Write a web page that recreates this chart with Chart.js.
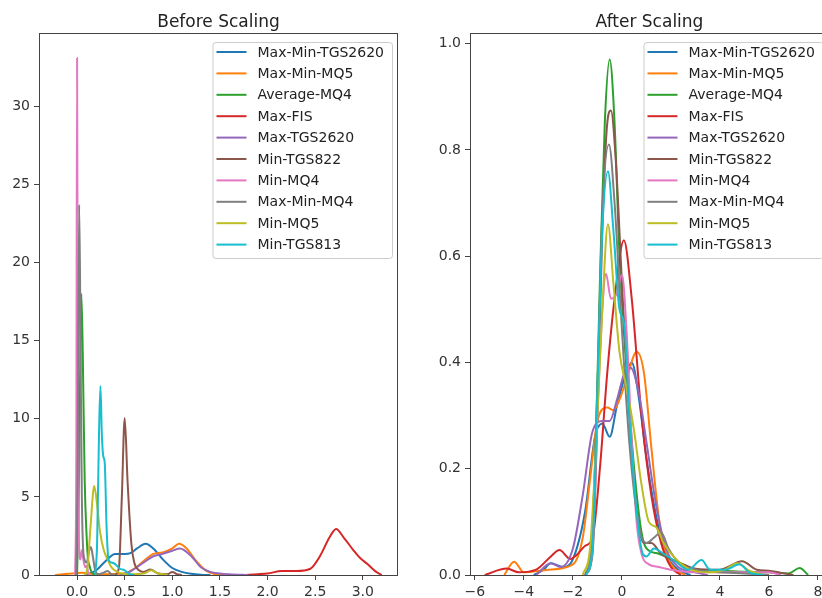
<!DOCTYPE html>
<html lang="en">
<head>
  <meta charset="UTF-8">
  <title>Before / After Scaling</title>
  <style>
    html, body { margin: 0; padding: 0; background: #fff; overflow: hidden; }
    #wrap { position: relative; width: 822px; height: 598px; overflow: hidden; }
    #left { position: absolute; left: 0; top: 0; }
    #right { position: absolute; left: 411px; top: 0; }
  </style>
  <script src="https://cdn.jsdelivr.net/npm/chart.js@4.4.0/dist/chart.umd.min.js"></script>
</head>
<body>
<div id="wrap">
  <canvas id="left" width="411" height="598"></canvas>
  <canvas id="right" width="430" height="598"></canvas>
</div>
<script>
// series names, in the order they were plotted
var names = ['Max-Min-TGS2620', 'Max-Min-MQ5', 'Average-MQ4', 'Max-FIS', 'Max-TGS2620',
             'Min-TGS822', 'Min-MQ4', 'Max-Min-MQ4', 'Min-MQ5', 'Min-TGS813']
var colors = ['#1f77b4', '#ff7f0e', '#2ca02c', '#d62728', '#9467bd',
              '#8c564b', '#e377c2', '#7f7f7f', '#bcbd22', '#17becf']

// tick labels
var beforeXTicks = [0.0, 0.5, 1.0, 1.5, 2.0, 2.5, 3.0]
var beforeYTicks = [0, 5, 10, 15, 20, 25, 30]
var afterXTicks = [-6, -4, -2, 0, 2, 4, 6, 8]
var afterYTicks = [0.0, 0.2, 0.4, 0.6, 0.8, 1.0]

// density curves before scaling, [x, y]
var bMaxMinTGS2620 = [[0.1,0],[0.2,0.3],[0.3,0.9],[0.4,1.35],[0.5,1.35],[0.56,1.4],[0.63,1.7],[0.72,2.0],[0.8,1.7],[0.9,1.0],[1.0,0.45],[1.1,0.2],[1.2,0.08],[1.3,0.02],[1.4,0]]
var bMaxMinMQ5 = [[-0.23,0],[-0.15,0.05],[-0.05,0.1],[0.05,0.15],[0.2,0.05],[0.5,0.1],[0.6,0.4],[0.7,0.9],[0.8,1.35],[0.9,1.45],[1.0,1.7],[1.07,2.0],[1.15,1.7],[1.25,0.9],[1.35,0.3],[1.45,0.05],[1.55,0]]
var bAverageMQ4 = [[0.0,0],[0.02,6],[0.045,18],[0.06,14],[0.08,6],[0.1,2.5],[0.115,1.0],[0.13,0.6],[0.15,0.2],[0.2,0]]
var bMaxFIS = [[1.75,0],[1.9,0.05],[2.0,0.1],[2.15,0.25],[2.3,0.25],[2.45,0.4],[2.55,1.2],[2.65,2.4],[2.72,2.95],[2.8,2.4],[2.9,1.6],[2.97,1.1],[3.05,0.7],[3.13,0.25],[3.2,0]]
var bMaxTGS2620 = [[0.45,0],[0.55,0.2],[0.7,0.8],[0.8,1.2],[0.9,1.35],[1.0,1.55],[1.08,1.7],[1.2,1.2],[1.3,0.5],[1.4,0.2],[1.5,0.1],[1.6,0.05],[1.8,0]]
var bMinTGS822 = [[0.4,0],[0.44,0.5],[0.47,5],[0.5,10.05],[0.53,6],[0.57,2],[0.6,0.8],[0.65,0.3],[0.7,0.2],[0.77,0.35],[0.85,0.1],[0.95,0.05],[1.0,0.2],[1.05,0.05],[1.1,0]]
var bMinMQ4 = [[-0.02,0],[-0.008,8],[0,33.1],[0.008,12],[0.02,2],[0.035,1.0],[0.05,1.6],[0.065,1.0],[0.085,0.5],[0.1,0.6],[0.115,0.2],[0.13,0]]
var bMaxMinMQ4 = [[-0.01,0],[0.005,6],[0.022,23.7],[0.035,16],[0.05,5],[0.07,1.2],[0.1,0.8],[0.125,1.5],[0.145,1.8],[0.165,1.2],[0.19,0.3],[0.22,0.05],[0.28,0.15],[0.32,0.25],[0.36,0.05],[0.4,0]]
var bMinMQ5 = [[0.08,0],[0.11,0.5],[0.14,3],[0.18,5.7],[0.21,4.5],[0.24,2.8],[0.28,1.6],[0.32,1.0],[0.36,0.5],[0.42,0.2],[0.55,0.05],[0.7,0.1],[0.78,0.3],[0.85,0.1],[0.95,0]]
var bMinTGS813 = [[0.19,0],[0.21,2],[0.23,9],[0.245,12.1],[0.26,9],[0.275,7.6],[0.29,7.2],[0.31,3],[0.33,1],[0.36,0.8],[0.4,0.7],[0.45,0.4],[0.5,0.3],[0.55,0.05],[0.6,0]]

// density curves after scaling, [x, y]
var aMaxMinTGS2620 = [[-3.6,0],[-3.2,0.01],[-2.9,0.022],[-2.4,0.015],[-2.0,0.03],[-1.5,0.12],[-1.1,0.26],[-0.8,0.285],[-0.5,0.26],[-0.2,0.32],[0.1,0.37],[0.4,0.4],[0.7,0.33],[1.0,0.22],[1.4,0.11],[1.8,0.04],[2.3,0.01],[2.8,0]]
var aMaxMinMQ5 = [[-4.8,0],[-4.4,0.025],[-4.0,0.005],[-3.0,0.01],[-2.0,0.02],[-1.6,0.07],[-1.3,0.18],[-1.0,0.29],[-0.6,0.315],[-0.35,0.31],[-0.1,0.33],[0.2,0.37],[0.6,0.42],[0.9,0.38],[1.2,0.24],[1.5,0.11],[1.8,0.04],[2.2,0.01],[2.6,0]]
var aAverageMQ4 = [[-1.5,0],[-1.3,0.03],[-1.1,0.2],[-0.9,0.55],[-0.7,0.85],[-0.5,0.97],[-0.3,0.85],[-0.1,0.6],[0.2,0.38],[0.5,0.2],[0.8,0.08],[1.0,0.05],[1.5,0.04],[2.0,0.03],[2.5,0.02],[3.0,0.01],[4.0,0.008],[5.0,0.006],[6.0,0.005],[6.8,0.003],[7.25,0.013],[7.6,0]]
var aMaxFIS = [[-5.6,0],[-4.7,0.012],[-4.2,0.005],[-3.5,0.01],[-2.9,0.035],[-2.55,0.047],[-2.1,0.03],[-1.8,0.04],[-1.5,0.055],[-1.2,0.07],[-0.9,0.2],[-0.6,0.38],[-0.3,0.52],[0.08,0.63],[0.4,0.52],[0.8,0.3],[1.2,0.15],[1.6,0.06],[2.0,0.015],[2.4,0]]
var aMaxTGS2620 = [[-3.5,0],[-2.9,0.022],[-2.5,0.015],[-2.0,0.05],[-1.6,0.15],[-1.2,0.27],[-0.8,0.29],[-0.5,0.29],[-0.2,0.33],[0.1,0.38],[0.35,0.39],[0.7,0.34],[1.0,0.25],[1.4,0.13],[1.8,0.05],[2.3,0.015],[3.0,0.005],[3.5,0]]
var aMinTGS822 = [[-1.5,0],[-1.2,0.04],[-1.0,0.3],[-0.8,0.65],[-0.6,0.85],[-0.45,0.874],[-0.25,0.78],[0.0,0.55],[0.3,0.3],[0.6,0.12],[0.9,0.06],[1.2,0.06],[1.6,0.04],[2.0,0.03],[2.5,0.02],[3.0,0.012],[4.0,0.01],[4.9,0.026],[5.5,0.01],[6.0,0.008],[6.5,0.004],[7.0,0]]
var aMinMQ4 = [[-1.5,0],[-1.2,0.05],[-1.0,0.3],[-0.8,0.5],[-0.65,0.567],[-0.45,0.52],[-0.2,0.53],[0.0,0.565],[0.2,0.45],[0.4,0.25],[0.6,0.1],[0.8,0.04],[1.1,0.02],[1.5,0.015],[2.0,0.01],[3.0,0.005],[4.0,0.005],[5.0,0.005],[6.0,0.005],[6.5,0]]
var aMaxMinMQ4 = [[-1.5,0],[-1.25,0.05],[-1.0,0.35],[-0.8,0.68],[-0.53,0.81],[-0.3,0.7],[-0.05,0.5],[0.3,0.25],[0.7,0.09],[1.0,0.06],[1.3,0.07],[1.6,0.08],[1.9,0.05],[2.4,0.02],[3.0,0.01],[4.0,0.005],[5.0,0.003],[6.0,0]]
var aMinMQ5 = [[-1.6,0],[-1.3,0.05],[-1.05,0.25],[-0.8,0.5],[-0.57,0.66],[-0.35,0.55],[-0.1,0.42],[0.2,0.35],[0.5,0.27],[0.8,0.17],[1.1,0.1],[1.4,0.09],[1.7,0.06],[2.2,0.03],[2.8,0.01],[3.5,0.005],[4.2,0.01],[4.7,0.022],[5.2,0.008],[5.8,0]]
var aMinTGS813 = [[-1.45,0],[-1.2,0.05],[-1.0,0.35],[-0.8,0.65],[-0.57,0.76],[-0.35,0.65],[-0.1,0.5],[0.1,0.47],[0.3,0.3],[0.6,0.12],[0.85,0.04],[1.0,0.035],[1.3,0.05],[1.7,0.04],[2.2,0.025],[2.7,0.01],[3.25,0.028],[3.6,0.01],[4.2,0.01],[4.8,0.02],[5.2,0.005],[5.8,0]]

var beforeSeries = [bMaxMinTGS2620, bMaxMinMQ5, bAverageMQ4, bMaxFIS, bMaxTGS2620,
                    bMinTGS822, bMinMQ4, bMaxMinMQ4, bMinMQ5, bMinTGS813]
var afterSeries = [aMaxMinTGS2620, aMaxMinMQ5, aAverageMQ4, aMaxFIS, aMaxTGS2620,
                   aMinTGS822, aMinMQ4, aMaxMinMQ4, aMinMQ5, aMinTGS813]

var FONT = 'DejaVu Sans'
var AXIS = '#444'

// frame, title and boxed legend, drawn the matplotlib way
var decor = {
  id: 'decor',
  afterDraw: function (chart, args, opts) {
    var c = chart.ctx, a = chart.chartArea
    c.save()
    c.strokeStyle = AXIS
    c.lineWidth = 1
    c.strokeRect(a.left + 0.5, a.top + 0.5, a.right - a.left - 1, a.bottom - a.top)

    c.fillStyle = '#222'
    c.font = '17px "' + FONT + '"'
    c.textAlign = 'center'
    c.textBaseline = 'alphabetic'
    c.fillText(opts.title, (a.left + a.right) / 2, 27)

    c.font = '14px "' + FONT + '"'
    var w = 0
    names.forEach(function (n) { w = Math.max(w, c.measureText(n).width) })
    var bw = 45 + w + 8, bh = 216
    var bx = a.right - 6 - bw, by = a.top + 9
    c.fillStyle = 'rgba(255,255,255,0.85)'
    c.strokeStyle = '#cccccc'
    c.beginPath()
    c.roundRect(bx + 0.5, by + 0.5, bw, bh, 3)
    c.fill()
    c.stroke()
    c.textAlign = 'left'
    c.textBaseline = 'middle'
    names.forEach(function (n, i) {
      var yy = by + 10 + i * 21.4
      c.strokeStyle = colors[i]
      c.lineWidth = 2
      c.beginPath()
      c.moveTo(bx + 4, yy)
      c.lineTo(bx + 34, yy)
      c.stroke()
      c.fillStyle = '#222'
      c.fillText(n, bx + 45, yy + 1)
    })
    c.restore()
  }
}

function makeChart(id, series, title, xr, yr, xt, yt, fx, fy, yw, padRight) {
  var datasets = series.map(function (s, i) {
    return {
      label: names[i],
      data: s.map(function (p) { return { x: p[0], y: p[1] } }),
      borderColor: colors[i],
      backgroundColor: colors[i],
      borderWidth: 2,
      pointRadius: 0,
      cubicInterpolationMode: 'monotone',
      fill: false,
      order: -i
    }
  })
  var axisGrid = { drawOnChartArea: false, drawTicks: true, tickLength: 5, color: AXIS }
  return new Chart(document.getElementById(id).getContext('2d'), {
    type: 'line',
    data: { datasets: datasets },
    options: {
      responsive: false,
      animation: false,
      devicePixelRatio: 1,
      layout: { padding: { top: 33, right: padRight, left: 0, bottom: 0 } },
      plugins: { legend: { display: false }, tooltip: { enabled: false }, decor: { title: title } },
      scales: {
        x: {
          type: 'linear', min: xr[0], max: xr[1],
          afterBuildTicks: function (s) { s.ticks = xt.map(function (v) { return { value: v } }) },
          afterFit: function (s) { s.height = 23 },
          ticks: { callback: fx, color: '#333', padding: 4, maxRotation: 0, autoSkip: false, font: { family: FONT, size: 14 } },
          grid: axisGrid,
          border: { display: false }
        },
        y: {
          type: 'linear', min: yr[0], max: yr[1],
          afterBuildTicks: function (s) { s.ticks = yt.map(function (v) { return { value: v } }) },
          afterFit: function (s) { s.width = yw },
          ticks: { callback: fy, color: '#333', padding: 4, autoSkip: false, font: { family: FONT, size: 14 } },
          grid: axisGrid,
          border: { display: false }
        }
      }
    },
    plugins: [decor]
  })
}

function minus(v) { return String(v).replace('-', '\u2212') }

makeChart('left', beforeSeries, 'Before Scaling', [-0.40, 3.37], [0, 34.7], beforeXTicks, beforeYTicks,
  function (v) { return v.toFixed(1) }, function (v) { return String(v) }, 39, 13)
makeChart('right', afterSeries, 'After Scaling', [-6.2, 8.45], [0, 1.02], afterXTicks, afterYTicks,
  function (v) { return minus(v) }, function (v) { return v.toFixed(1) }, 59, 12)
</script>
</body>
</html>
